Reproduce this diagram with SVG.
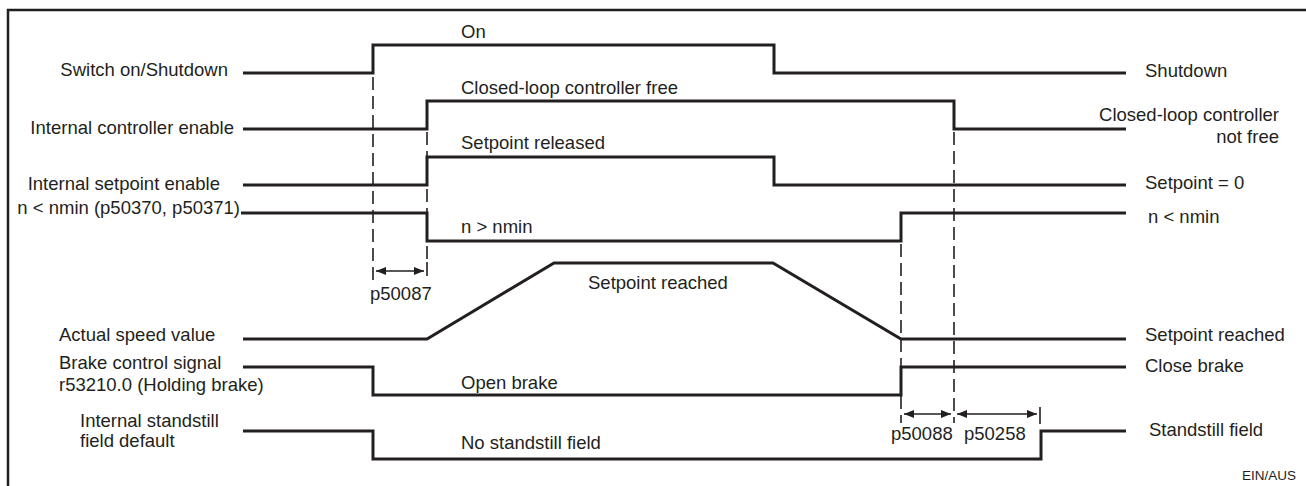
<svg xmlns="http://www.w3.org/2000/svg" width="1306" height="486" viewBox="0 0 1306 486">
<style>
text{font-family:"Liberation Sans",Arial,sans-serif;font-size:18.5px;fill:#231f20}
.r{text-anchor:end}
.sig{fill:none;stroke:#231f20;stroke-width:3;stroke-linejoin:miter;stroke-linecap:butt}
.dash{fill:none;stroke:#231f20;stroke-width:1.6;stroke-dasharray:13 6}
.tick{fill:none;stroke:#231f20;stroke-width:1.6}
.dim{fill:none;stroke:#231f20;stroke-width:1.6;marker-start:url(#ah);marker-end:url(#ah)}
.frame{fill:none;stroke:#231f20;stroke-width:2.5}
.small{font-size:13.5px}
</style>
<defs>
<marker id="ah" viewBox="0 0 10 8" refX="10" refY="4" markerWidth="10" markerHeight="8" markerUnits="userSpaceOnUse" orient="auto-start-reverse">
<path d="M0,0 L10,4 L0,8 Z" fill="#231f20"/>
</marker>
</defs>
<rect width="1306" height="486" fill="#fff"/>
<path class="frame" d="M8,486 V10 H1306"/>

<g id="switch-on">
<text class="r" x="228" y="76">Switch on/Shutdown</text>
<path class="sig" d="M243,73 H373 V45 H774 V73 H1126"/>
<text x="461" y="38">On</text>
<text x="1145" y="77">Shutdown</text>
</g>

<g id="controller-enable">
<text class="r" x="234" y="134">Internal controller enable</text>
<path class="sig" d="M243,129 H427 V101 H954 V129 H1126"/>
<text x="461" y="94">Closed-loop controller free</text>
<text class="r" x="1279" y="121">Closed-loop controller</text>
<text class="r" x="1279" y="143">not free</text>
</g>

<g id="setpoint-enable">
<text class="r" x="220" y="190">Internal setpoint enable</text>
<path class="sig" d="M243,185 H427 V157 H774 V185 H1126"/>
<text x="461" y="149">Setpoint released</text>
<text x="1145" y="189">Setpoint = 0</text>
</g>

<g id="nmin">
<text class="r" x="240" y="214">n &lt; nmin (p50370, p50371)</text>
<path class="sig" d="M241,213 H427 V241 H901 V213 H1126"/>
<text x="461" y="233">n &gt; nmin</text>
<text x="1148" y="223">n &lt; nmin</text>
</g>

<g id="actual-speed">
<text x="59" y="341">Actual speed value</text>
<path class="sig" d="M243,339 H427 L554,263 H773 L901,339 H1126"/>
<text x="588" y="289">Setpoint reached</text>
<text x="1145" y="341">Setpoint reached</text>
</g>

<g id="brake">
<text x="59" y="369">Brake control signal</text>
<text x="59" y="391">r53210.0 (Holding brake)</text>
<path class="sig" d="M243,367 H373 V395 H901 V367 H1126"/>
<text x="461" y="389">Open brake</text>
<text x="1145" y="372">Close brake</text>
</g>

<g id="standstill">
<text x="80" y="427">Internal standstill</text>
<text x="80" y="447">field default</text>
<path class="sig" d="M243,431 H373 V459 H1041 V431 H1126"/>
<text x="461" y="449">No standstill field</text>
<text x="1149" y="436">Standstill field</text>
</g>

<g id="connectors">
<line class="dash" x1="373" y1="77" x2="373" y2="281"/>
<line class="dash" x1="427" y1="132" x2="427" y2="262"/>
<line class="tick" x1="427" y1="262" x2="427" y2="276"/>
<line class="dash" x1="901" y1="244" x2="901" y2="423"/>
<line class="dash" x1="954" y1="132" x2="954" y2="423"/>
<line class="tick" x1="1040" y1="407" x2="1040" y2="424"/>
<line class="dim" x1="376" y1="271" x2="424" y2="271"/>
<line class="dim" x1="904" y1="414" x2="951" y2="414"/>
<line class="dim" x1="957" y1="414" x2="1037" y2="414"/>
</g>

<g id="dimension-labels">
<text x="370" y="300">p50087</text>
<text x="891" y="440">p50088</text>
<text x="964" y="440">p50258</text>
<text class="r small" x="1296" y="480">EIN/AUS</text>
</g>
</svg>
